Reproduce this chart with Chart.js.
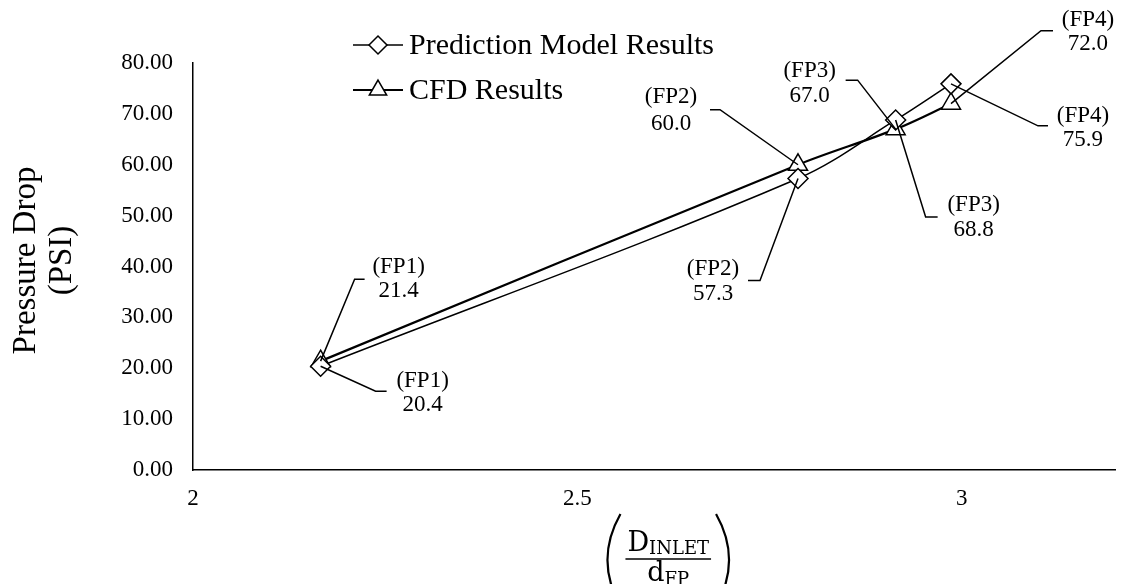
<!DOCTYPE html>
<html><head><meta charset="utf-8">
<script src="https://cdn.jsdelivr.net/npm/chart.js@4/dist/chart.umd.min.js"></script>
<style>html,body{margin:0;padding:0;background:#fff;}#wrap{width:1128px;height:584px;}</style>
</head><body><div id="wrap"><canvas id="c" width="1128" height="584"></canvas></div>
<script>
// ---- data ----
const pointNames = ['FP1', 'FP2', 'FP3', 'FP4'];
const ratioValues = [2.166, 2.787, 2.914, 2.986];
const predictionValues = [20.4, 57.3, 68.8, 75.9];
const cfdValues = [21.4, 60.0, 67.0, 72.0];
const xTickValues = [2, 2.5, 3];
const yTickValues = [0, 10, 20, 30, 40, 50, 60, 70, 80];
const seriesNames = ['Prediction Model Results', 'CFD Results'];
const yAxisTitle = ['Pressure Drop', '(PSI)'];
const xTitleNum = ['D', 'INLET'];
const xTitleDen = ['d', 'FP'];

const SERIF = '"Liberation Serif", "Times New Roman", serif';
const MATH = '"DejaVu Serif", serif';

// data label placement (pixel offsets from the point)
const labelLayout = [
  {ds: 1, i: 0, elbow: [34, -82], end: [44, -82], cx: 78, y1: -94, y2: -70},
  {ds: 0, i: 0, elbow: [55, 25], end: [66, 25], cx: 102, y1: 15, y2: 39},
  {ds: 1, i: 1, elbow: [-78, -55], end: [-88, -55], cx: -127, y1: -68, y2: -41},
  {ds: 0, i: 1, elbow: [-38, 102], end: [-50, 102], cx: -85, y1: 90, y2: 115},
  {ds: 1, i: 2, elbow: [-38, -49], end: [-50, -49], cx: -86, y1: -58, y2: -33},
  {ds: 0, i: 2, elbow: [30, 97], end: [42, 97], cx: 78, y1: 85, y2: 110},
  {ds: 1, i: 3, elbow: [90, -73], end: [102, -73], cx: 137, y1: -84, y2: -60},
  {ds: 0, i: 3, elbow: [87, 42], end: [97, 42], cx: 132, y1: 32, y2: 56}
];

function drawDiamond(ctx, x, y, r) {
  ctx.beginPath(); ctx.moveTo(x - r, y); ctx.lineTo(x, y - r); ctx.lineTo(x + r, y); ctx.lineTo(x, y + r);
  ctx.closePath(); ctx.fill(); ctx.stroke();
}
function drawTriangle(ctx, x, y, r) {
  const w = r * Math.sin(2 * Math.PI / 3);
  ctx.beginPath(); ctx.moveTo(x, y - r); ctx.lineTo(x + w, y + r / 2); ctx.lineTo(x - w, y + r / 2);
  ctx.closePath(); ctx.fill(); ctx.stroke();
}

const decorPlugin = {
  id: 'decor',
  afterDatasetsDraw(chart) {
    const ctx = chart.ctx;
    const ca = chart.chartArea;
    ctx.save();
    // leader lines + data labels
    ctx.strokeStyle = '#000';
    ctx.lineWidth = 1.5;
    ctx.fillStyle = '#000';
    ctx.font = '23px ' + SERIF;
    ctx.textAlign = 'center';
    ctx.textBaseline = 'middle';
    labelLayout.forEach(L => {
      const el = chart.getDatasetMeta(L.ds).data[L.i];
      const px = el.x, py = el.y;
      ctx.beginPath();
      ctx.moveTo(px, py);
      ctx.lineTo(px + L.elbow[0], py + L.elbow[1]);
      ctx.lineTo(px + L.end[0], py + L.end[1]);
      ctx.stroke();
      const v = chart.data.datasets[L.ds].data[L.i].y;
      ctx.fillText('(' + pointNames[L.i] + ')', px + L.cx, py + L.y1);
      ctx.fillText(v.toFixed(1), px + L.cx, py + L.y2);
    });

    // legend
    const legendY = [45, 90];
    ctx.font = '30px ' + SERIF;
    ctx.textAlign = 'left';
    chart.data.datasets.forEach((ds, k) => {
      const y = legendY[k];
      ctx.lineWidth = ds.borderWidth;
      ctx.beginPath(); ctx.moveTo(353, y); ctx.lineTo(403, y); ctx.stroke();
      ctx.fillStyle = '#fff'; ctx.lineWidth = 1.5;
      if (k === 0) drawDiamond(ctx, 378, y, 9); else drawTriangle(ctx, 378, y, 10);
      ctx.fillStyle = '#000';
      ctx.fillText(ds.label, 409, y + 1);
    });

    // y axis title
    ctx.save();
    ctx.translate(44, (ca.top + ca.bottom) / 2 - 6);
    ctx.rotate(-Math.PI / 2);
    ctx.font = '33px ' + SERIF;
    ctx.textAlign = 'center';
    ctx.textBaseline = 'middle';
    ctx.fillText(yAxisTitle[0], 0, -18);
    ctx.fillText(yAxisTitle[1], 0, 18);
    ctx.restore();

    // x axis title (fraction in parentheses)
    const cx = (ca.left + ca.right) / 2 + 14;
    ctx.textAlign = 'left';
    ctx.textBaseline = 'alphabetic';
    ctx.font = '27px ' + MATH;
    const wN1 = ctx.measureText(xTitleNum[0]).width;
    const wD1 = ctx.measureText(xTitleDen[0]).width;
    ctx.font = '18px ' + MATH;
    const wN2 = ctx.measureText(xTitleNum[1]).width;
    const wD2 = ctx.measureText(xTitleDen[1]).width;
    const wN = wN1 + wN2, wD = wD1 + wD2;
    const bw = Math.max(wN, wD) + 4;
    const barY = 559;
    ctx.font = '27px ' + MATH;
    ctx.fillText(xTitleNum[0], cx - wN / 2, barY - 8);
    ctx.fillText(xTitleDen[0], cx - wD / 2, barY + 22);
    ctx.font = '18px ' + MATH;
    ctx.fillText(xTitleNum[1], cx - wN / 2 + wN1, barY - 5);
    ctx.fillText(xTitleDen[1], cx - wD / 2 + wD1, barY + 26);
    ctx.lineWidth = 1.5;
    ctx.beginPath(); ctx.moveTo(cx - bw / 2, barY); ctx.lineTo(cx + bw / 2, barY); ctx.stroke();
    const lx = cx - bw / 2 - 5, rx = cx + bw / 2 + 5;
    ctx.lineWidth = 2.2;
    ctx.beginPath(); ctx.moveTo(lx, 514); ctx.quadraticCurveTo(lx - 26, 560, lx, 606); ctx.stroke();
    ctx.beginPath(); ctx.moveTo(rx, 514); ctx.quadraticCurveTo(rx + 26, 560, rx, 606); ctx.stroke();
    ctx.restore();
  }
};

new Chart(document.getElementById('c'), {
  type: 'scatter',
  data: {
    datasets: [
      {
        label: seriesNames[0],
        data: ratioValues.map((x, i) => ({x: x, y: predictionValues[i]})),
        showLine: true, tension: 0.35,
        borderColor: '#000', borderWidth: 1.5,
        pointStyle: 'rectRot', pointRadius: 10, pointBorderWidth: 1.5,
        pointBackgroundColor: '#fff', pointBorderColor: '#000'
      },
      {
        label: seriesNames[1],
        data: ratioValues.map((x, i) => ({x: x, y: cfdValues[i]})),
        showLine: true, tension: 0.35,
        borderColor: '#000', borderWidth: 2.2,
        pointStyle: 'triangle', pointRadius: 11, pointBorderWidth: 1.5,
        pointBackgroundColor: '#fff', pointBorderColor: '#000'
      }
    ]
  },
  options: {
    responsive: false, animation: false, devicePixelRatio: 1,
    layout: {padding: {top: 63, right: 0, left: 0, bottom: 0}},
    plugins: {legend: {display: false}, tooltip: {enabled: false}, title: {display: false}},
    scales: {
      x: {
        type: 'linear', min: 2, max: 3.2,
        afterBuildTicks: s => { s.ticks = xTickValues.map(v => ({value: v})); },
        afterFit: s => { s.height = 114; },
        grid: {display: false, drawTicks: false},
        border: {display: true, color: '#000', width: 1.5},
        ticks: {color: '#000', font: {family: SERIF, size: 23}, padding: 15, maxRotation: 0,
          callback: v => String(v)}
      },
      y: {
        type: 'linear', min: 0, max: 80,
        afterBuildTicks: s => { s.ticks = yTickValues.map(v => ({value: v})); },
        afterFit: s => { s.width = 193; },
        grid: {display: false, drawTicks: false},
        border: {display: true, color: '#000', width: 1.5},
        ticks: {color: '#000', font: {family: SERIF, size: 23}, padding: 20,
          callback: v => Number(v).toFixed(2)}
      }
    }
  },
  plugins: [decorPlugin]
});
</script>
</body></html>
